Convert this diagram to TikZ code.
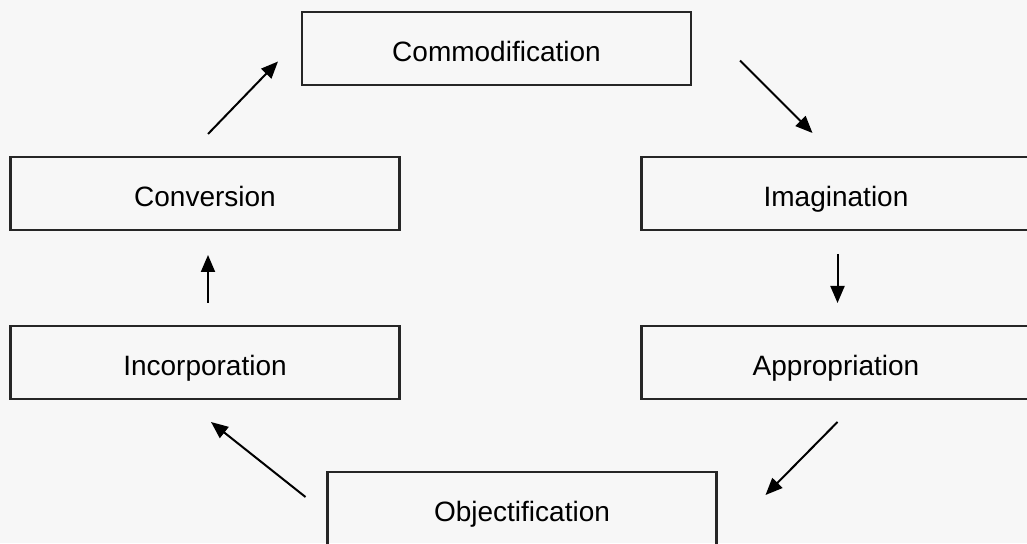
\documentclass[tikz,border=0pt]{standalone}
\usepackage{fontspec}
\setmainfont{Liberation Sans}
\usetikzlibrary{arrows.meta, positioning, calc}

\begin{document}
\begin{tikzpicture}[x=1pt, y=1pt,
  font=\fontsize{28}{32}\selectfont,
  stage/.style={draw=black!85, line width=2.2pt, minimum width=389pt, minimum height=73pt, text height=30pt, text depth=3pt, inner sep=0pt, outer sep=0pt},
  flow/.style={draw=black, line width=2pt, -{Triangle[length=17pt, width=14pt]}}]
  \useasboundingbox (0,0) rectangle (1027,543);
  \fill[black!3] (0,0) rectangle (1027,543);
  % the six stages of the cycle
  \node[stage] (comm) at (496.5,494.5) {Commodification};
  \node[stage] (conv) at (205,349.5) {Conversion};
  \node[stage, right=242pt of conv] (imag) {Imagination};
  \node[stage, below=96pt of conv] (inc) {Incorporation};
  \node[stage, below=96pt of imag] (appr) {Appropriation};
  \node[stage] (obj) at (522,34.5) {Objectification};
  % arrows, clockwise
  \draw[flow] ($(conv.north)+(3,23)$) -- ($(comm.west)+(-24,-13)$);
  \draw[flow] ($(comm.east)+(49,-12)$) -- ($(imag.north)+(-23.5,24)$);
  \draw[flow] ($(imag.south)+(1.5,-24)$) -- ($(appr.north)+(1.5,23)$);
  \draw[flow] ($(appr.south)+(1.5,-23)$) -- ($(obj.east)+(49,13.5)$);
  \draw[flow] ($(obj.west)+(-22,11.5)$) -- ($(inc.south)+(6,-23)$);
  \draw[flow] ($(inc.north)+(3,23)$) -- ($(conv.south)+(3,-25)$);
\end{tikzpicture}
\end{document}
